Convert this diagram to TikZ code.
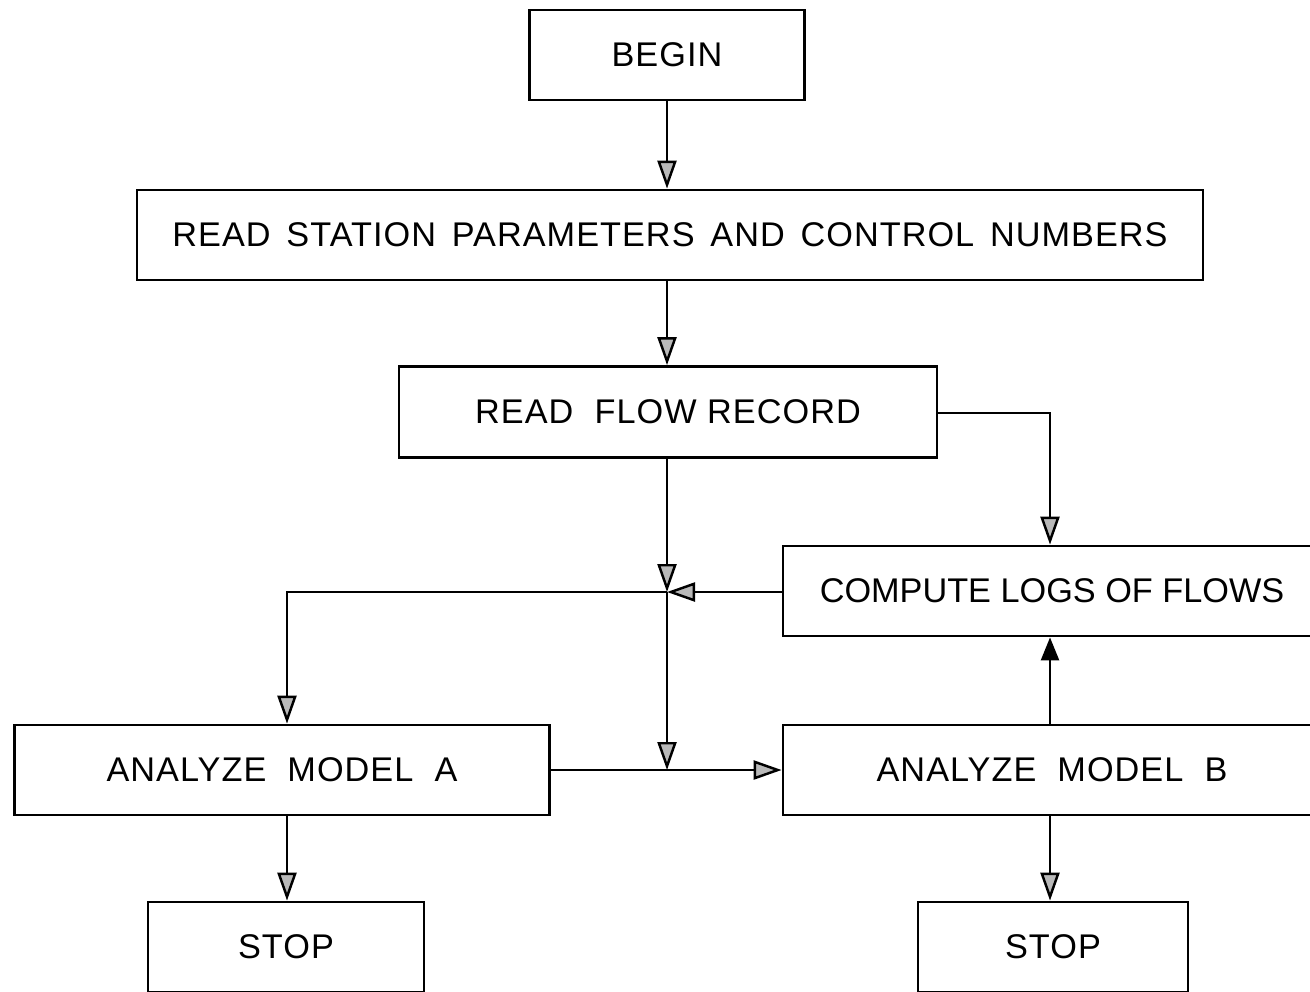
\documentclass[tikz,border=0pt]{standalone}
\usepackage{fontspec}
\setmainfont{Liberation Sans}[LetterSpace=3]
\usetikzlibrary{arrows.meta}
\newcommand{\gap}{\hspace{9pt}}
\begin{document}
\begin{tikzpicture}[x=0.02cm,y=-0.02cm,
  box/.style={draw, line width=1.6pt, rectangle, inner sep=0pt, font=\fontsize{19.5}{22}\selectfont},
  con/.style={line width=1.4pt, -{Triangle[length=0.56cm,width=0.38cm,fill=gray!55]}},
  conb/.style={line width=1.4pt, -{Triangle[length=0.46cm,width=0.36cm]}}]
\useasboundingbox (0,0) rectangle (1310,991);
\node[box, minimum width=0.02cm*275, minimum height=0.02cm*90] (begin) at (667,55) {BEGIN};
\node[box, minimum width=0.02cm*1066, minimum height=0.02cm*90] (station) at (670,235) {READ\gap STATION\gap PARAMETERS\gap AND\gap CONTROL\gap NUMBERS};
\node[box, minimum width=0.02cm*538, minimum height=0.02cm*91] (flow) at (668,412) {READ\ \ FLOW\ RECORD};
\node[box, minimum width=0.02cm*538, minimum height=0.02cm*90] (logs) at (1052,591) {\addfontfeature{LetterSpace=0}COMPUTE LOGS OF FLOWS};
\node[box, minimum width=0.02cm*535, minimum height=0.02cm*90] (modelA) at (282,770) {ANALYZE\ \ MODEL\ \ A};
\node[box, minimum width=0.02cm*538, minimum height=0.02cm*90] (modelB) at (1052,770) {ANALYZE\ \ MODEL\ \ B};
\node[box, minimum width=0.02cm*276, minimum height=0.02cm*90] (stopA) at (286,947) {STOP};
\node[box, minimum width=0.02cm*270, minimum height=0.02cm*90] (stopB) at (1053,947) {STOP};
\coordinate (J) at (667,592);
\coordinate (K) at (667,770);
\coordinate (R) at (1050,413);
\coordinate (L) at (287,592);
\draw[con] (begin.south -| J) -- (station.north -| J);
\draw[con] (station.south -| J) -- (flow.north -| J);
\draw[con] (flow.south -| J) -- (J);
\draw[con] (flow.east |- R) -- (R) -- (R |- logs.north);
\draw[con] (logs.west |- J) -- (J);
\draw[con] (J) -- (L) -- (L |- modelA.north);
\draw[con] (J) -- (K);
\draw[con] (modelA.east) -- (modelB.west);
\draw[conb] (modelB.north -| R) -- (logs.south -| R);
\draw[con] (modelA.south -| L) -- (stopA.north -| L);
\draw[con] (modelB.south -| R) -- (stopB.north -| R);
\end{tikzpicture}
\end{document}
